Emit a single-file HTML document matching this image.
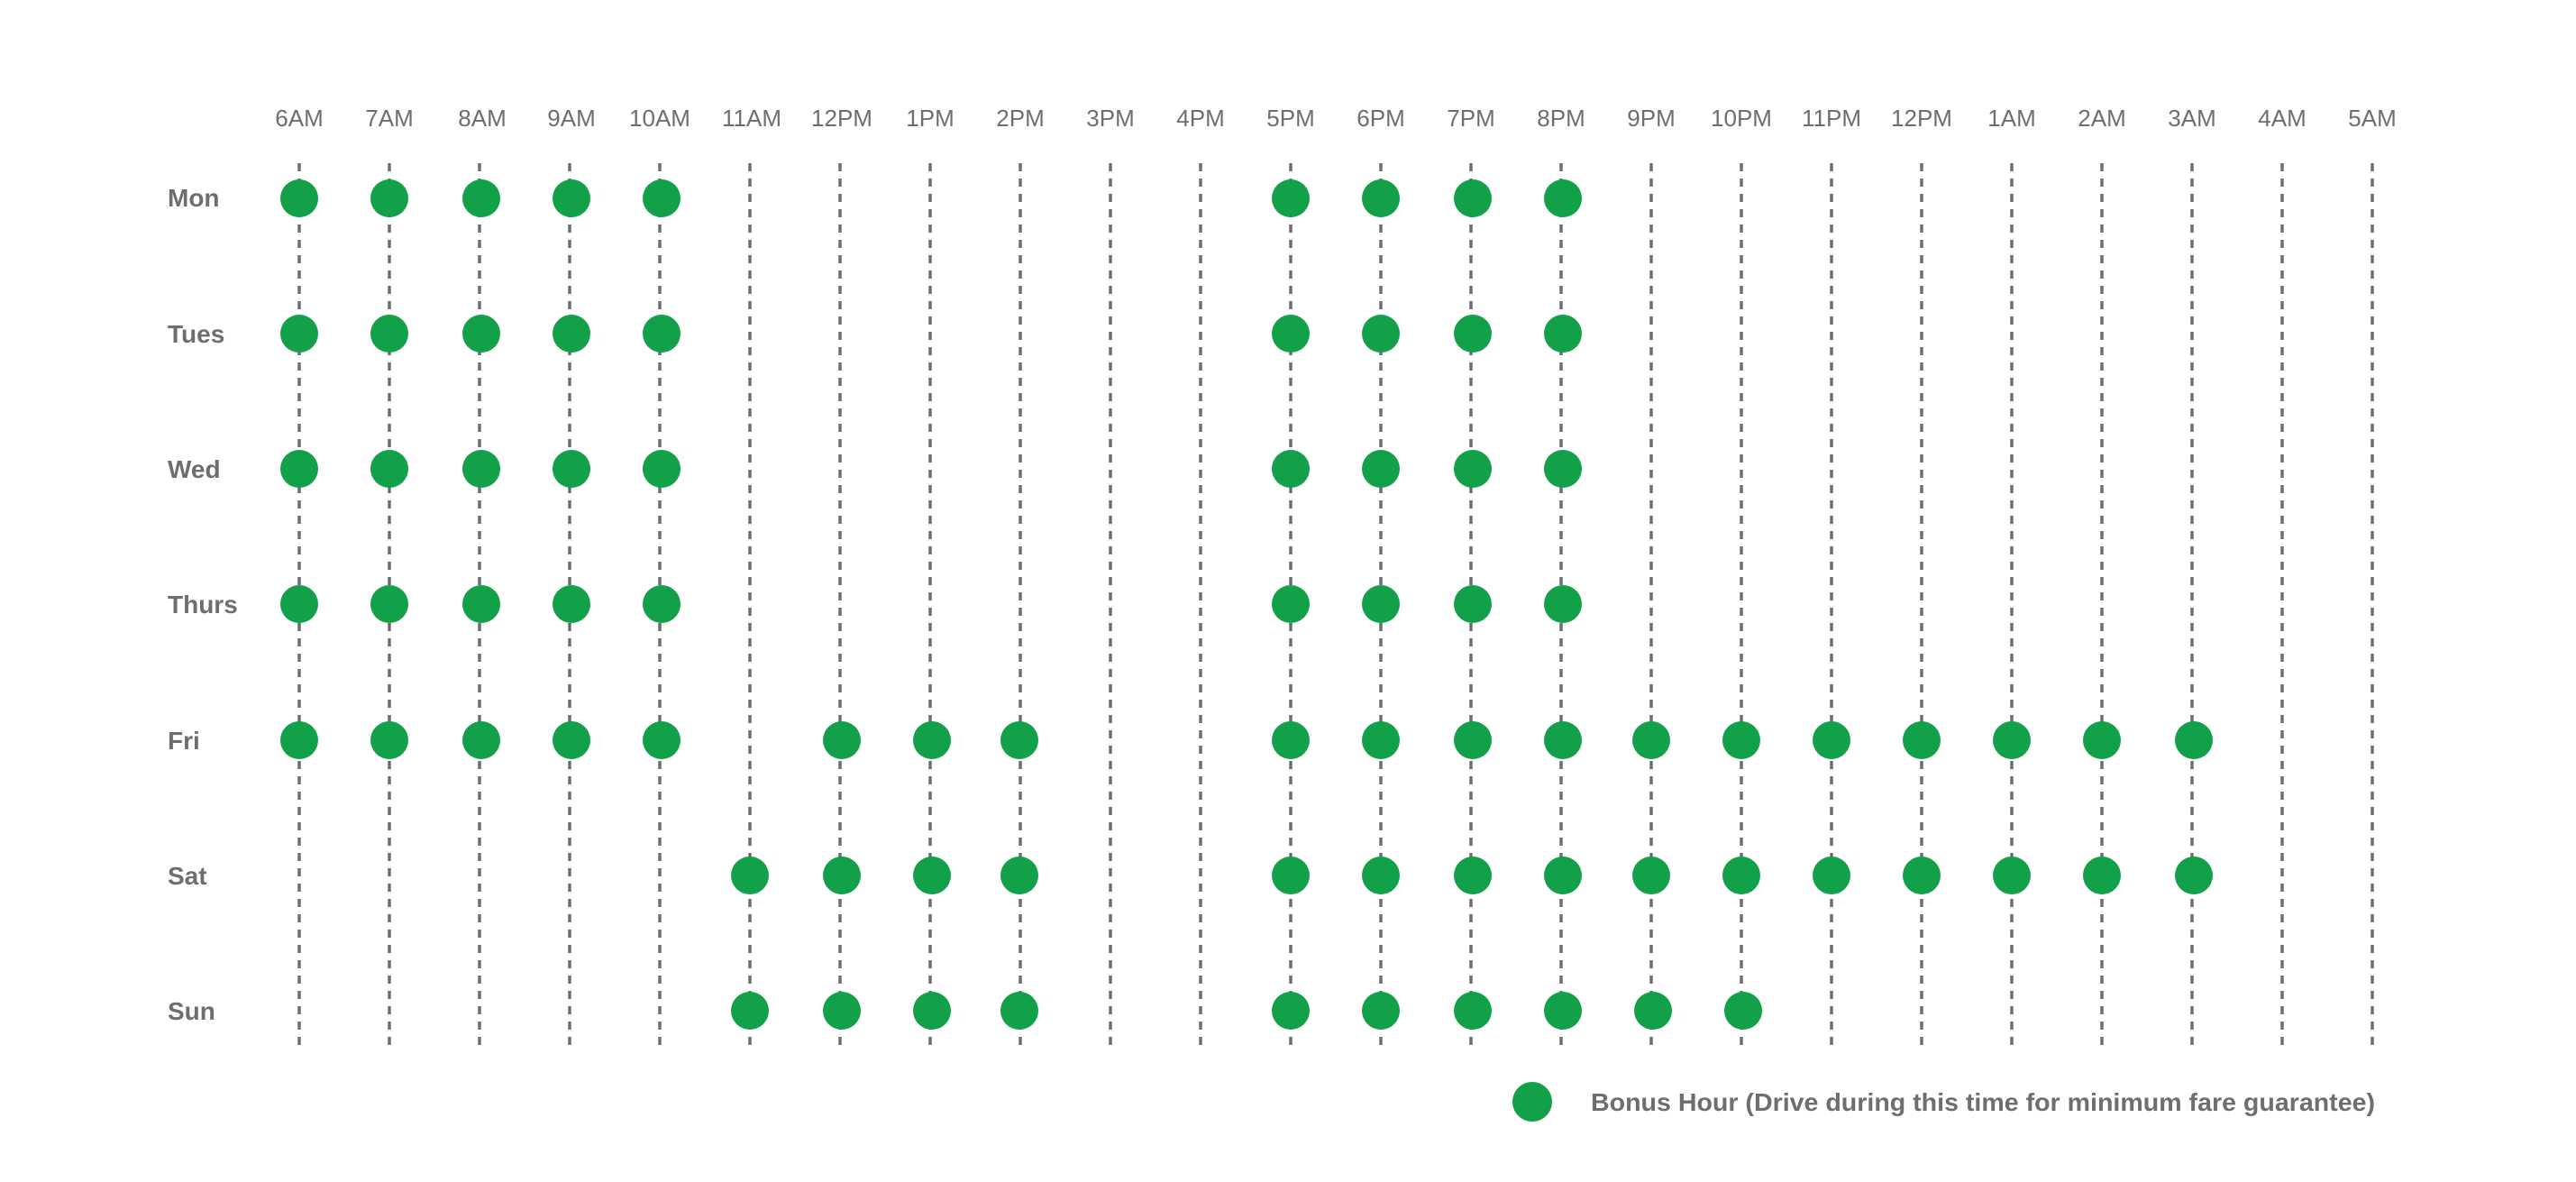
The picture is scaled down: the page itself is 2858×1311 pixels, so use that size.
<!DOCTYPE html>
<html><head><meta charset="utf-8"><style>
html,body{margin:0;padding:0;background:#fff;}
svg{display:block;}
.t{font-family:"Liberation Sans",sans-serif;font-size:26px;fill:#6d6e71;text-anchor:middle;}
.d{font-family:"Liberation Sans",sans-serif;font-size:28px;font-weight:bold;fill:#6d6e71;}
</style></head><body>
<svg width="2858" height="1311" viewBox="0 0 2858 1311" xmlns="http://www.w3.org/2000/svg">
<g class="t">
<text x="332" y="140">6AM</text><text x="432" y="140">7AM</text><text x="535" y="140">8AM</text><text x="634" y="140">9AM</text><text x="732" y="140">10AM</text><text x="834" y="140">11AM</text><text x="934" y="140">12PM</text><text x="1032" y="140">1PM</text><text x="1132" y="140">2PM</text><text x="1232" y="140">3PM</text><text x="1332" y="140">4PM</text><text x="1432" y="140">5PM</text><text x="1532" y="140">6PM</text><text x="1632" y="140">7PM</text><text x="1732" y="140">8PM</text><text x="1832" y="140">9PM</text><text x="1932" y="140">10PM</text><text x="2032" y="140">11PM</text><text x="2132" y="140">12PM</text><text x="2232" y="140">1AM</text><text x="2332" y="140">2AM</text><text x="2432" y="140">3AM</text><text x="2532" y="140">4AM</text><text x="2632" y="140">5AM</text>
</g>
<g class="d">
<text x="186" y="229">Mon</text><text x="186" y="380">Tues</text><text x="186" y="530">Wed</text><text x="186" y="680">Thurs</text><text x="186" y="831">Fri</text><text x="186" y="981">Sat</text><text x="186" y="1131">Sun</text>
</g>
<path stroke="#6d6e71" stroke-width="3.5" stroke-dasharray="9 8" fill="none" d="M332 181V1160M432 181V1160M532 181V1160M632 181V1160M732 181V1160M832 181V1160M932 181V1160M1032 181V1160M1132 181V1160M1232 181V1160M1332 181V1160M1432 181V1160M1532 181V1160M1632 181V1160M1732 181V1160M1832 181V1160M1932 181V1160M2032 181V1160M2132 181V1160M2232 181V1160M2332 181V1160M2432 181V1160M2532 181V1160M2632 181V1160"/>
<g fill="#12a049">
<circle cx="332" cy="220" r="21"/><circle cx="432" cy="220" r="21"/><circle cx="534" cy="220" r="21"/><circle cx="634" cy="220" r="21"/><circle cx="734" cy="220" r="21"/><circle cx="1432" cy="220" r="21"/><circle cx="1532" cy="220" r="21"/><circle cx="1634" cy="220" r="21"/><circle cx="1734" cy="220" r="21"/>
<circle cx="332" cy="370" r="21"/><circle cx="432" cy="370" r="21"/><circle cx="534" cy="370" r="21"/><circle cx="634" cy="370" r="21"/><circle cx="734" cy="370" r="21"/><circle cx="1432" cy="370" r="21"/><circle cx="1532" cy="370" r="21"/><circle cx="1634" cy="370" r="21"/><circle cx="1734" cy="370" r="21"/>
<circle cx="332" cy="520" r="21"/><circle cx="432" cy="520" r="21"/><circle cx="534" cy="520" r="21"/><circle cx="634" cy="520" r="21"/><circle cx="734" cy="520" r="21"/><circle cx="1432" cy="520" r="21"/><circle cx="1532" cy="520" r="21"/><circle cx="1634" cy="520" r="21"/><circle cx="1734" cy="520" r="21"/>
<circle cx="332" cy="670" r="21"/><circle cx="432" cy="670" r="21"/><circle cx="534" cy="670" r="21"/><circle cx="634" cy="670" r="21"/><circle cx="734" cy="670" r="21"/><circle cx="1432" cy="670" r="21"/><circle cx="1532" cy="670" r="21"/><circle cx="1634" cy="670" r="21"/><circle cx="1734" cy="670" r="21"/>
<circle cx="332" cy="821" r="21"/><circle cx="432" cy="821" r="21"/><circle cx="534" cy="821" r="21"/><circle cx="634" cy="821" r="21"/><circle cx="734" cy="821" r="21"/><circle cx="934" cy="821" r="21"/><circle cx="1034" cy="821" r="21"/><circle cx="1131" cy="821" r="21"/><circle cx="1432" cy="821" r="21"/><circle cx="1532" cy="821" r="21"/><circle cx="1634" cy="821" r="21"/><circle cx="1734" cy="821" r="21"/><circle cx="1832" cy="821" r="21"/><circle cx="1932" cy="821" r="21"/><circle cx="2032" cy="821" r="21"/><circle cx="2132" cy="821" r="21"/><circle cx="2232" cy="821" r="21"/><circle cx="2332" cy="821" r="21"/><circle cx="2434" cy="821" r="21"/>
<circle cx="832" cy="971" r="21"/><circle cx="934" cy="971" r="21"/><circle cx="1034" cy="971" r="21"/><circle cx="1131" cy="971" r="21"/><circle cx="1432" cy="971" r="21"/><circle cx="1532" cy="971" r="21"/><circle cx="1634" cy="971" r="21"/><circle cx="1734" cy="971" r="21"/><circle cx="1832" cy="971" r="21"/><circle cx="1932" cy="971" r="21"/><circle cx="2032" cy="971" r="21"/><circle cx="2132" cy="971" r="21"/><circle cx="2232" cy="971" r="21"/><circle cx="2332" cy="971" r="21"/><circle cx="2434" cy="971" r="21"/>
<circle cx="832" cy="1121" r="21"/><circle cx="934" cy="1121" r="21"/><circle cx="1034" cy="1121" r="21"/><circle cx="1131" cy="1121" r="21"/><circle cx="1432" cy="1121" r="21"/><circle cx="1532" cy="1121" r="21"/><circle cx="1634" cy="1121" r="21"/><circle cx="1734" cy="1121" r="21"/><circle cx="1834" cy="1121" r="21"/><circle cx="1934" cy="1121" r="21"/>
<circle cx="1700" cy="1222" r="22"/>
</g>
<text class="d" x="1765" y="1232" textLength="870" lengthAdjust="spacingAndGlyphs">Bonus Hour (Drive during this time for minimum fare guarantee)</text>
</svg>
</body></html>
